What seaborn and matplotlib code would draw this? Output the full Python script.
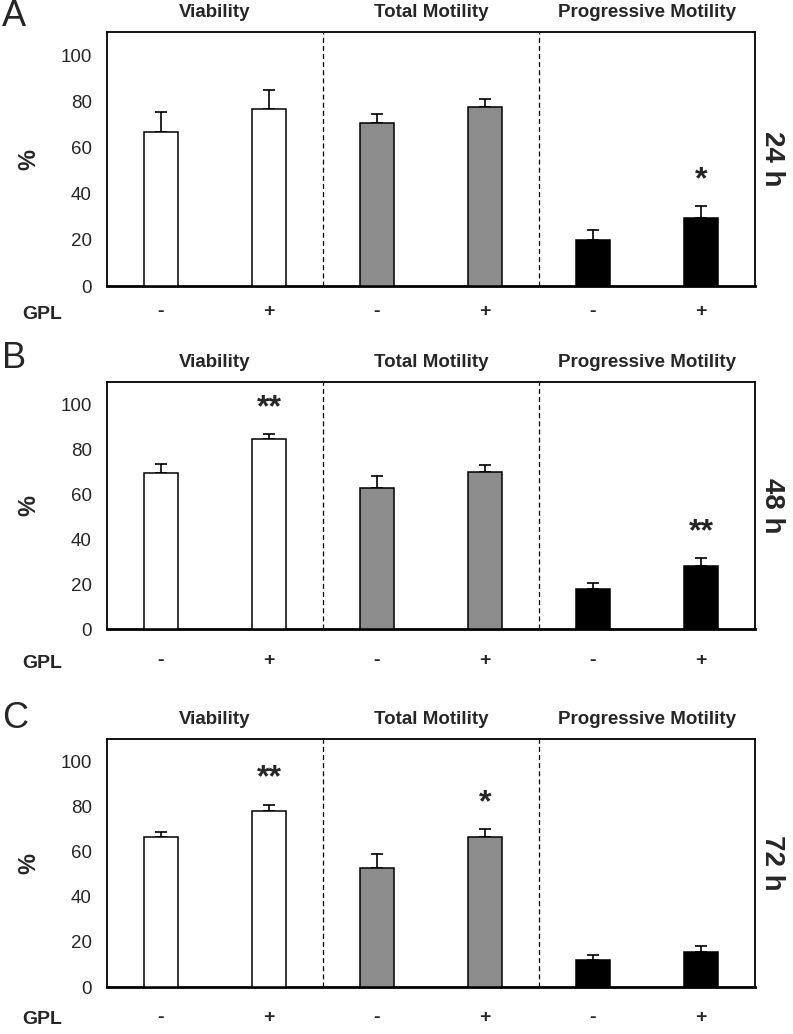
import numpy as np
import pandas as pd
import matplotlib
matplotlib.use("Agg")
import matplotlib.pyplot as plt
import seaborn as sns

sns.set_style("white")
plt.rcParams["font.family"] = ["Liberation Sans", "DejaVu Sans"]

# data
groups = ["Viability", "Total Motility", "Progressive Motility"]
gpl = ["-", "+", "-", "+", "-", "+"]
conds = ["Viab-", "Viab+", "Tot-", "Tot+", "Prog-", "Prog+"]
bar_colors = ["#ffffff", "#ffffff", "#8c8c8c", "#8c8c8c", "#000000", "#000000"]

times = ["24 h", "48 h", "72 h"]
letters = ["A", "B", "C"]

means_24 = [66.9, 76.8, 70.4, 77.6, 19.8, 29.6]
err_24 = [8.6, 8.0, 4.2, 3.6, 4.3, 4.9]
stars_24 = ["", "", "", "", "", "*"]

means_48 = [69.3, 84.4, 63.0, 70.1, 17.9, 27.9]
err_48 = [4.3, 2.3, 5.0, 2.8, 2.8, 3.5]
stars_48 = ["", "**", "", "", "", "**"]

means_72 = [66.4, 77.9, 52.9, 66.6, 11.9, 15.4]
err_72 = [2.2, 2.9, 5.9, 3.5, 2.2, 2.8]
stars_72 = ["", "**", "", "*", "", ""]

all_means = [means_24, means_48, means_72]
all_err = [err_24, err_48, err_72]
all_stars = [stars_24, stars_48, stars_72]

W, H = 793, 1034
fig = plt.figure(figsize=(W / 100, H / 100), dpi=100)

# axes boxes in pixels: (top, bottom)
boxes = [(32, 286), (382, 629), (739, 987)]
left_px, right_px = 107, 755
letter_y = [17, 358, 718]
gpl_drop = [28, 34, 33]

for k in range(3):
    top, bot = boxes[k]
    ax = fig.add_axes([left_px / W, 1 - bot / H, (right_px - left_px) / W, (bot - top) / H])

    df = pd.DataFrame({"cond": conds, "value": all_means[k], "err": all_err[k]})

    sns.barplot(
        data=df, x="cond", y="value", hue="cond", order=conds, hue_order=conds,
        palette=bar_colors, saturation=1, legend=False, errorbar=None,
        width=0.31, edgecolor="black", linewidth=1.1, ax=ax, zorder=3
    )

    xs = np.arange(len(conds))
    ax.errorbar(
        xs, df["value"], yerr=[np.zeros(len(conds)), df["err"]],
        fmt="none", ecolor="black", elinewidth=1.2, capsize=4.5, capthick=1.2, zorder=2
    )

    for i, s in enumerate(all_stars[k]):
        if s:
            ax.annotate(
                s, xy=(xs[i], df["value"][i] + df["err"][i]), xytext=(0, 8),
                textcoords="offset points", ha="center", va="bottom",
                fontsize=23, fontweight="bold"
            )

    for xv in [1.5, 3.5]:
        ax.axvline(xv, color="black", lw=0.9, ls=(0, (4, 2.5)), zorder=1)

    ax.set_xlim(-0.5, 5.5)
    ax.set_ylim(0, 110)
    ax.set_yticks([0, 20, 40, 60, 80, 100])
    ax.set_xticks(xs)
    ax.set_xticklabels(gpl, fontsize=14, fontweight="bold")
    ax.tick_params(axis="x", length=0, pad=gpl_drop[k] / 1.39 - 8)
    ax.tick_params(axis="y", length=0, pad=11, labelsize=13.5)
    ax.set_xlabel("")
    ax.set_ylabel("")

    for sp in ax.spines.values():
        sp.set_visible(True)
        sp.set_color("black")
        sp.set_linewidth(1.3)
    ax.spines["bottom"].set_linewidth(2)

    for g, name in enumerate(groups):
        ax.annotate(
            name, xy=(2 * g + 0.5, 1), xycoords=("data", "axes fraction"),
            xytext=(0, 14), textcoords="offset points",
            ha="center", va="center", fontsize=13.5, fontweight="bold"
        )

    ax.annotate(
        "GPL", xy=(-0.131, 0), xycoords="axes fraction",
        xytext=(0, -gpl_drop[k]), textcoords="offset pixels",
        ha="left", va="center", fontsize=14, fontweight="bold"
    )
    ax.text(-0.12, 0.5, "%", transform=ax.transAxes, rotation=90,
            ha="center", va="center", fontsize=17, fontweight="bold")
    ax.text(1.026, 0.5, times[k], transform=ax.transAxes, rotation=-90,
            ha="center", va="center", fontsize=20, fontweight="bold")

    fig.text(2 / W, 1 - letter_y[k] / H, letters[k], ha="left", va="center", fontsize=26)

fig.savefig("out.png", dpi=100)
